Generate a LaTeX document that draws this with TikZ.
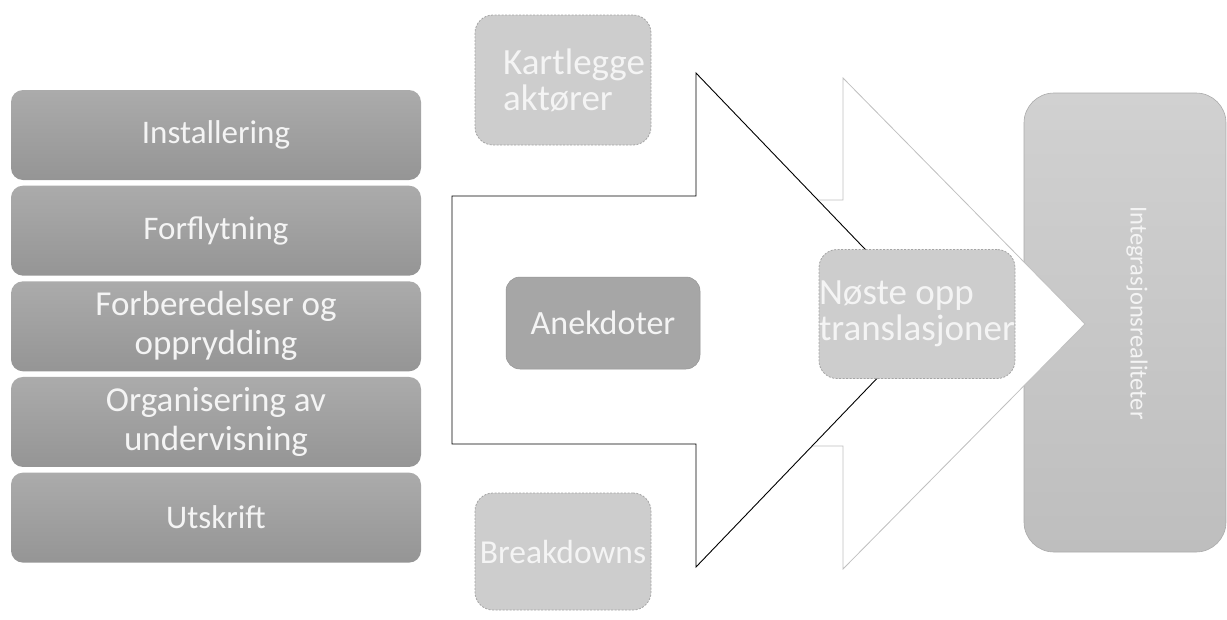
\documentclass[tikz,border=0pt]{standalone}
\usepackage{fontspec}
\setmainfont{Carlito}
\usetikzlibrary{positioning}

\definecolor{listtop}{RGB}{171,171,171}
\definecolor{listbot}{RGB}{149,149,149}
\definecolor{softbox}{RGB}{205,205,205}
\definecolor{softline}{RGB}{165,165,165}
\definecolor{darkbox}{RGB}{166,166,166}
\definecolor{pilgrey}{RGB}{192,192,192}
\definecolor{sidetop}{RGB}{209,209,209}
\definecolor{sidebot}{RGB}{190,190,190}
\definecolor{labeltext}{RGB}{244,244,244}

\begin{document}
\begin{tikzpicture}[x=1pt,y=1pt]
\tikzstyle{listbox}=[rounded corners=12pt,top color=listtop,bottom color=listbot,text=labeltext,minimum width=410pt,minimum height=90pt,inner sep=0pt,align=center,font=\fontsize{33}{38}\selectfont]
\tikzstyle{dashbox}=[rounded corners=18pt,fill=softbox,draw=softline,line width=0.8pt,dash pattern=on 2pt off 1.5pt,text=labeltext,inner sep=0pt,font=\fontsize{37}{36}\selectfont]

\useasboundingbox (0,0) rectangle (1227,-619);

%box on the right
\node[rounded corners=30pt,top color=sidetop,bottom color=sidebot,draw=sidebot!90!black,line width=0.6pt,minimum width=202pt,minimum height=459pt] (side) at (1125,-322.5) {};
\node[rotate=-90,text=labeltext,font=\fontsize{24.5}{28}\selectfont] (integ) at (1137,-313) {Integrasjonsrealiteter};

%grey arrow behind
\draw[pilgrey,line width=0.8pt,fill=white] (700,-200) -- (843,-200) -- (843,-78) -- (1085,-324) -- (843,-569) -- (843,-446) -- (700,-446) -- cycle;

%black arrow in front
\draw[black,line width=0.9pt,fill=white] (452,-196) -- (696,-196) -- (696,-73) -- (933,-320) -- (696,-567) -- (696,-444) -- (452,-444) -- cycle;

%list on the left
\node[listbox] (inst) at (216,-135) {Installering};
\node[listbox,below=5.25pt of inst] (forfl) {Forflytning};
\node[listbox,below=5.25pt of forfl,font=\fontsize{35}{39}\selectfont] (forb) {Forberedelser og\\opprydding};
\node[listbox,below=5.25pt of forb,font=\fontsize{35}{39}\selectfont] (org) {Organisering av\\undervisning};
\node[listbox,below=5.25pt of org] (utskr) {Utskrift};

%dashed boxes
\node[dashbox,minimum width=176pt,minimum height=130pt,align=left] (kart) at (563,-80) {\hspace*{22pt}Kartlegge\\\hspace*{22pt}aktører};
\node[dashbox,minimum width=176pt,minimum height=117pt,font=\fontsize{33.5}{36}\selectfont] (brk) at (563,-551.5) {Breakdowns};
\node[dashbox,minimum width=196pt,minimum height=129pt,align=left] (noste) at (917,-314) {Nøste opp\\translasjoner};

%middle box
\node[rounded corners=14pt,fill=darkbox,draw=darkbox!90!black,line width=0.5pt,text=labeltext,minimum width=194pt,minimum height=92pt,font=\fontsize{34}{37}\selectfont] (anek) at (603,-323) {Anekdoter};
\end{tikzpicture}
\end{document}
